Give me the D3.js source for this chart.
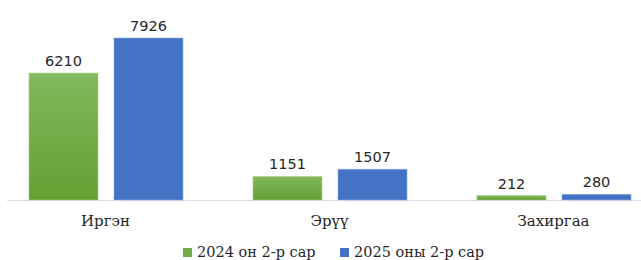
<!DOCTYPE html>
<html>
<head>
<meta charset="utf-8">
<script src="https://cdn.jsdelivr.net/npm/d3@7"></script>
<style>
  body { margin: 0; background: #fff; }
</style>
</head>
<body>
<svg id="chart" width="641" height="260"></svg>
<script>
// data
let categories = ["Иргэн", "Эрүү", "Захиргаа"];
let seriesNames = ["2024 он 2-р сар", "2025 оны 2-р сар"];
let values2024 = [6210, 1151, 212];
let values2025 = [7926, 1507, 280];

let colors = ["#70ad47", "#4472c4"];

let svg = d3.select("#chart");

// gradient for the green bars
let defs = svg.append("defs");
let grad = defs.append("linearGradient")
    .attr("id", "greenGrad")
    .attr("x1", 0).attr("y1", 0).attr("x2", 0).attr("y2", 1);
grad.append("stop").attr("offset", "0%").attr("stop-color", "#82b95d");
grad.append("stop").attr("offset", "100%").attr("stop-color", "#62a033");

let baseY = 200;

let x = d3.scaleBand()
  .domain(categories)
  .range([-6.5, 665.5])
  .paddingInner(0)
  .paddingOuter(0);

// bars inside each category
let x1 = d3.scaleBand()
  .domain([0, 1])
  .range([35.5, 189.5])
  .paddingInner(16 / 85)
  .paddingOuter(0);

let y = d3.scaleLinear()
  .domain([0, 7926])
  .range([baseY, 38]);

// axis line
svg.append("line")
  .attr("x1", 7).attr("x2", 641)
  .attr("y1", baseY + 0.5).attr("y2", baseY + 0.5)
  .attr("stroke", "#d9dde6")
  .attr("stroke-width", 1.2);

let series = [values2024, values2025];

series.forEach(function(vals, si) {
  let g = svg.append("g");
  g.selectAll("rect")
    .data(vals)
    .enter().append("rect")
      .attr("x", (d, i) => x(categories[i]) + x1(si))
      .attr("width", x1.bandwidth())
      .attr("y", d => y(d))
      .attr("height", d => baseY - y(d))
      .attr("fill", si === 0 ? "url(#greenGrad)" : colors[1])
      .attr("stroke", si === 0 ? "#a9d18e" : "#8faadc")
      .attr("stroke-width", 0.6);

  g.selectAll("text")
    .data(vals)
    .enter().append("text")
      .attr("x", (d, i) => x(categories[i]) + x1(si) + x1.bandwidth() / 2)
      .attr("y", d => y(d) - 7)
      .attr("text-anchor", "middle")
      .style("font-family", "'DejaVu Sans', sans-serif")
      .style("font-size", "14.5px")
      .style("fill", "#262626")
      .text(d => d);
});

// category labels
svg.append("g").selectAll("text")
  .data(categories)
  .enter().append("text")
    .attr("x", d => x(d) + x.bandwidth() / 2)
    .attr("y", 226)
    .attr("text-anchor", "middle")
    .style("font-family", "'DejaVu Serif', serif")
    .style("font-size", "15px")
    .style("fill", "#262626")
    .text(d => d);

// legend
let legendX = [183, 340];
let legend = svg.append("g");
seriesNames.forEach(function(name, i) {
  legend.append("rect")
    .attr("x", legendX[i]).attr("y", 248)
    .attr("width", 9).attr("height", 9)
    .attr("fill", i === 0 ? "#70ad47" : colors[1]);
  legend.append("text")
    .attr("x", legendX[i] + 14)
    .attr("y", 257)
    .style("font-family", "'DejaVu Serif', serif")
    .style("font-size", "14.5px")
    .style("fill", "#262626")
    .text(name);
});
</script>
</body>
</html>
